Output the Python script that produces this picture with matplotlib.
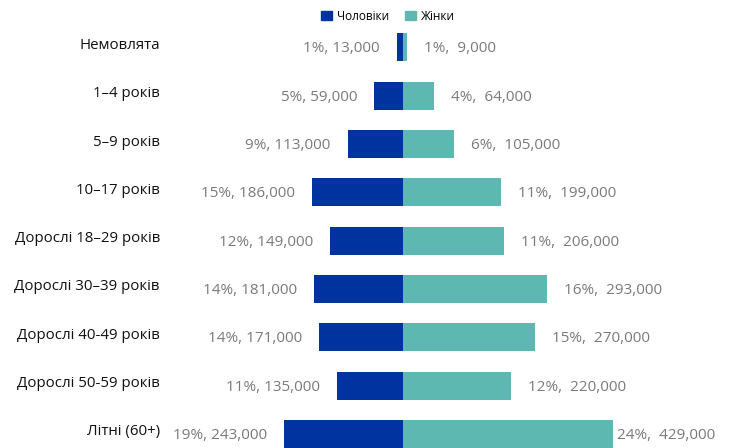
import matplotlib
matplotlib.use("Agg")
import matplotlib.pyplot as plt
from matplotlib.patches import Patch

categories = ["Немовлята", "1–4 років", "5–9 років", "10–17 років",
              "Дорослі 18–29 років", "Дорослі 30–39 років", "Дорослі 40-49 років",
              "Дорослі 50-59 років", "Літні (60+)"]
men_values = [13000, 59000, 113000, 186000, 149000, 181000, 171000, 135000, 243000]
men_pct = [1, 5, 9, 15, 12, 14, 14, 11, 19]
women_values = [9000, 64000, 105000, 199000, 206000, 293000, 270000, 220000, 429000]
women_pct = [1, 4, 6, 11, 11, 16, 15, 12, 24]
series_names = ["Чоловіки", "Жінки"]

MEN_C = "#0033A0"
WOMEN_C = "#5DB8B1"
LABEL_C = "#7a7a7a"
FONT = ["Open Sans", "DejaVu Sans"]
plt.rcParams["font.family"] = FONT

W, H = 729, 448
fig = plt.figure(figsize=(W / 100, H / 100), dpi=100)
ax = fig.add_axes([0, 0, 1, 1])

scale = 0.49 / 1000.0  # px per person
cx = 403.0
row0, rowstep = 47.5, 48.3
ax.set_xlim(-cx / scale, (W - cx) / scale)
ax.set_ylim((H - row0) / rowstep, -row0 / rowstep)
ax.axis("off")

n = len(categories)
ys = list(range(n))
bh = 28 / rowstep
ax.barh(ys, [-v for v in men_values], height=bh, color=MEN_C, linewidth=0)
ax.barh(ys, women_values, height=bh, color=WOMEN_C, linewidth=0)

gap_pt = 17 * 0.72
right_limit = (715 - cx) / scale
fs = 11.0
dy_val = 1.5 / rowstep
for i, cat in enumerate(categories):
    ax.text(160 / W, i - 2 / rowstep, cat, transform=ax.get_yaxis_transform(),
            ha="right", va="center", fontsize=10.8, color="#111111")
    ax.annotate(f"{men_pct[i]}%, {men_values[i]:,}", xy=(-men_values[i], i + dy_val),
                xytext=(-gap_pt, 0), textcoords="offset points",
                ha="right", va="center", fontsize=fs, color=LABEL_C)
    wl = f"{women_pct[i]}%,  {women_values[i]:,}"
    est_w = 100 / scale
    if women_values[i] + 17 / scale + est_w > right_limit:
        ax.text(right_limit, i + dy_val, wl, ha="right", va="center", fontsize=fs, color=LABEL_C)
    else:
        ax.annotate(wl, xy=(women_values[i], i + dy_val), xytext=(gap_pt, 0),
                    textcoords="offset points", ha="left", va="center",
                    fontsize=fs, color=LABEL_C)

handles = [Patch(color=MEN_C), Patch(color=WOMEN_C)]
fig.legend(handles, series_names, loc="center", bbox_to_anchor=(388 / W, 1 - 16 / H),
           ncol=2, frameon=False, fontsize=8.5, handlelength=0.9, handleheight=0.9,
           handletextpad=0.4, columnspacing=1.4)

fig.savefig("out.png", dpi=100)
